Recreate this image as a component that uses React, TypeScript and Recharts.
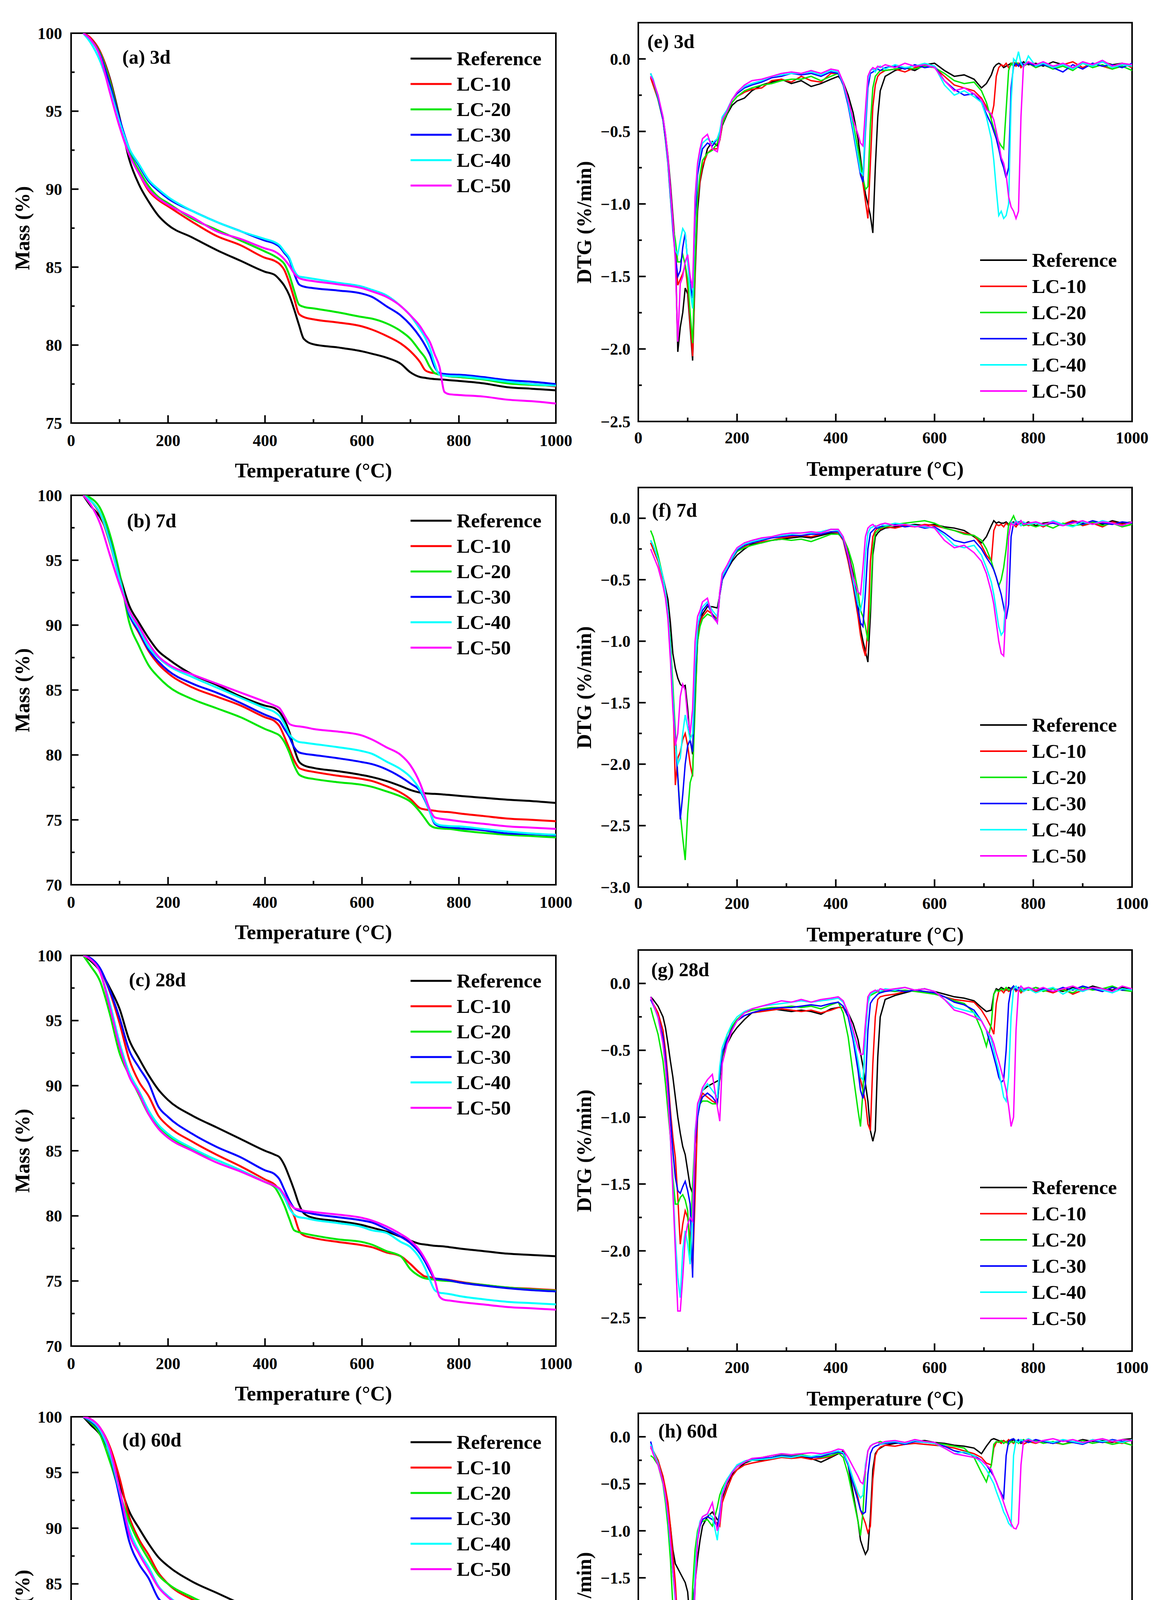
import React from "react";
import { LineChart, Line, XAxis, YAxis, Legend, ReferenceArea } from "recharts";

const FONT = '"Liberation Serif", "Times New Roman", serif';

const SERIES = [
  { key: "ref", name: "Reference", color: "#000000" },
  { key: "lc10", name: "LC-10", color: "#ff0000" },
  { key: "lc20", name: "LC-20", color: "#00e600" },
  { key: "lc30", name: "LC-30", color: "#0000ff" },
  { key: "lc40", name: "LC-40", color: "#00ffff" },
  { key: "lc50", name: "LC-50", color: "#ff00ff" },
];

// temperature grids (°C)
const T_TG = [
  25, 40, 60, 80, 100, 120, 140, 160, 180, 200,
  250, 300, 350, 400, 420, 430, 440, 450, 460, 470,
  480, 500, 550, 600, 620, 650, 680, 700, 720, 730,
  740, 750, 760, 770, 780, 800, 850, 900, 950, 1000,
];

const T_DTG = [
  25, 30, 40, 50, 55, 60, 65, 70, 75, 80,
  85, 90, 95, 100, 105, 110, 115, 120, 125, 130,
  140, 150, 160, 165, 170, 180, 190, 200, 215, 230,
  250, 270, 290, 310, 330, 350, 370, 390, 405, 415,
  425, 435, 445, 450, 455, 460, 465, 470, 475, 480,
  485, 490, 500, 520, 540, 560, 580, 600, 620, 640,
  660, 680, 695, 705, 715, 720, 725, 730, 735, 740,
  745, 750, 755, 760, 765, 770, 775, 780, 790, 805,
  820, 840, 860, 880, 900, 920, 940, 960, 980, 1000,
];

// ---- mass (%) 3d ----
const A_REF = [
  100, 99.7, 98.8, 97.1, 94.6, 91.9, 90.3, 89.2, 88.3, 87.7,
  86.9, 86.1, 85.4, 84.7, 84.5, 84.2, 83.8, 83.2, 82.3, 81.3,
  80.4, 80.05, 79.85, 79.6, 79.45, 79.2, 78.8, 78.25, 77.95, 77.9,
  77.85, 77.82, 77.8, 77.78, 77.75, 77.7, 77.55, 77.3, 77.2, 77.1,
];
const A_LC10 = [
  100, 99.7, 98.8, 97.0, 94.5, 92.3, 91.0, 89.9, 89.3, 88.9,
  87.9, 87.0, 86.4, 85.6, 85.4, 85.2, 84.8, 84.0, 83.0, 82.0,
  81.8, 81.65, 81.45, 81.2, 81.0, 80.6, 80.1, 79.6, 78.9, 78.4,
  78.25, 78.2, 78.1, 78.05, 78.0, 77.95, 77.85, 77.6, 77.5, 77.35,
];
const A_LC20 = [
  100, 99.6, 98.7, 96.9, 94.5, 92.4, 91.2, 90.2, 89.5, 89.1,
  88.1, 87.4, 86.7, 86.0, 85.7, 85.5, 85.2, 84.5, 83.5, 82.6,
  82.45, 82.35, 82.1, 81.8, 81.7, 81.4, 80.9, 80.4, 79.6, 79.2,
  78.6, 78.2, 78.1, 78.05, 78.0, 77.95, 77.8, 77.55, 77.45, 77.4,
];
const A_LC30 = [
  100, 99.6, 98.6, 96.7, 94.5, 92.6, 91.5, 90.5, 89.9, 89.4,
  88.6, 87.9, 87.3, 86.7, 86.5, 86.3, 85.9, 85.5, 84.6, 83.9,
  83.75, 83.65, 83.5, 83.3, 83.1, 82.5, 81.9, 81.3, 80.5, 80.0,
  79.4, 78.6, 78.2, 78.15, 78.12, 78.1, 77.95, 77.75, 77.65, 77.5,
];
const A_LC40 = [
  100, 99.4, 98.2, 96.4, 94.3, 92.6, 91.6, 90.6, 90.0, 89.5,
  88.6, 87.9, 87.3, 86.8, 86.6, 86.4, 86.0, 85.6, 84.8, 84.4,
  84.35, 84.25, 84.0, 83.75, 83.55, 83.2, 82.5, 81.9, 81.0, 80.5,
  79.8, 78.8, 78.1, 78.05, 78.02, 78.0, 77.85, 77.65, 77.5, 77.4,
];
const A_LC50 = [
  100, 99.6, 98.5, 96.2, 94.0, 92.2, 91.0, 90.0, 89.4, 89.0,
  88.2, 87.3, 86.8, 86.2, 86.0, 85.8, 85.5, 85.1, 84.6, 84.3,
  84.2, 84.1, 83.9, 83.65, 83.45, 83.1, 82.5, 81.9, 81.2, 80.7,
  80.2, 79.4, 78.6, 77.0, 76.85, 76.8, 76.7, 76.5, 76.4, 76.25,
];

// ---- mass (%) 7d ----
const B_REF = [
  100, 99.2, 98.3, 96.6, 93.9, 91.5, 90.2, 89.0, 88.0, 87.4,
  86.2, 85.4, 84.5, 83.8, 83.6, 83.3, 82.7, 81.8, 80.5, 79.5,
  79.2, 79.0, 78.75, 78.45, 78.3, 78.0, 77.6, 77.3, 77.1, 77.05,
  77.02, 77.0, 76.98, 76.95, 76.92, 76.85, 76.7, 76.55, 76.45, 76.3,
];
const B_LC10 = [
  100, 99.6, 98.5, 96.3, 93.5, 90.8, 89.4, 88.0, 87.0, 86.3,
  85.2, 84.5, 83.8, 82.9, 82.6, 82.2, 81.4, 80.5, 79.6, 79.0,
  78.85, 78.7, 78.4, 78.15, 78.0, 77.6, 77.1, 76.6, 75.9, 75.8,
  75.75, 75.7, 75.65, 75.62, 75.6, 75.5, 75.3, 75.1, 75.0, 74.9,
];
const B_LC20 = [
  100, 99.8, 99.0, 97.0, 94.0, 90.2, 88.4, 86.9, 86.0, 85.3,
  84.3, 83.6, 82.9, 82.0, 81.7, 81.5, 81.0, 80.2, 79.2, 78.5,
  78.3, 78.15, 77.9, 77.7, 77.55, 77.2, 76.8, 76.4, 75.6, 75.1,
  74.6, 74.4, 74.35, 74.32, 74.3, 74.2, 74.0, 73.85, 73.75, 73.65,
];
const B_LC30 = [
  100, 99.6, 98.6, 96.5, 93.6, 90.8, 89.5, 88.1, 87.2, 86.5,
  85.5, 84.8, 84.0, 83.1, 82.8, 82.6, 82.0, 81.4, 80.6, 80.2,
  80.1, 80.0, 79.75, 79.45, 79.3, 78.9, 78.3, 77.8, 77.2, 76.5,
  75.6, 74.7, 74.5, 74.45, 74.42, 74.35, 74.2, 73.95, 73.9, 73.8,
];
const B_LC40 = [
  100, 99.6, 98.6, 96.4, 93.5, 91.0, 89.7, 88.3, 87.5, 86.9,
  86.0, 85.2, 84.4, 83.6, 83.3, 83.0, 82.4, 81.6, 81.2, 81.0,
  80.95, 80.85, 80.6, 80.3, 80.1, 79.5, 78.9, 78.3, 77.3, 76.6,
  75.6, 74.8, 74.6, 74.55, 74.52, 74.5, 74.3, 74.1, 73.95, 73.85,
];
const B_LC50 = [
  100, 99.3, 97.8, 95.4, 93.1, 91.1, 89.9, 88.6, 87.6, 87.0,
  86.2, 85.5, 84.8, 84.1, 83.8, 83.6, 83.0, 82.4, 82.25, 82.2,
  82.15, 82.0, 81.8, 81.5, 81.2, 80.6, 80.0, 79.2, 77.8, 76.8,
  75.8, 75.2, 75.1, 75.05, 75.0, 74.9, 74.7, 74.5, 74.4, 74.3,
];

// ---- mass (%) 28d ----
const C_REF = [
  100, 99.6, 98.8, 97.5, 95.9, 93.5, 92.1, 90.8, 89.7, 88.9,
  87.7, 86.8, 85.9, 85.0, 84.7, 84.5, 83.9, 83.0, 82.0, 80.9,
  80.2, 79.85, 79.6, 79.3, 79.1, 78.8, 78.4, 78.1, 77.85, 77.8,
  77.75, 77.7, 77.68, 77.65, 77.6, 77.5, 77.3, 77.1, 77.0, 76.9,
];
const C_LC10 = [
  100, 99.7, 98.9, 97.2, 94.8, 92.0, 90.3, 89.2, 87.7, 86.9,
  85.7, 84.7, 83.8, 82.8, 82.4, 82.0, 81.4, 80.7, 80.0, 78.9,
  78.5, 78.3, 78.0, 77.75, 77.6, 77.2, 76.9, 76.3, 75.6, 75.35,
  75.3, 75.2, 75.15, 75.12, 75.08, 74.95, 74.7, 74.5, 74.4, 74.3,
];
const C_LC20 = [
  100, 99.2, 98.0, 95.5, 92.5, 90.8, 89.3, 87.8, 86.9, 86.2,
  85.1, 84.3, 83.5, 82.6, 82.2, 81.6, 80.8, 79.8, 78.9, 78.75,
  78.65, 78.5, 78.2, 78.0, 77.8, 77.3, 76.9, 75.9, 75.35, 75.2,
  75.15, 75.1, 75.05, 75.02, 75.0, 74.9, 74.7, 74.5, 74.35, 74.25,
];
const C_LC30 = [
  100, 99.8, 99.0, 97.3, 95.2, 92.7, 91.4, 90.2, 88.4, 87.6,
  86.3, 85.3, 84.5, 83.5, 83.2, 82.8, 82.0, 81.2, 80.6, 80.4,
  80.3, 80.15, 79.9, 79.65, 79.5, 79.0, 78.4, 77.9, 77.1, 76.5,
  75.8, 75.2, 75.15, 75.1, 75.05, 74.9, 74.65, 74.45, 74.3, 74.2,
];
const C_LC40 = [
  100, 99.7, 98.7, 96.3, 93.3, 91.0, 89.6, 88.1, 87.0, 86.3,
  85.2, 84.3, 83.5, 82.6, 82.3, 82.0, 81.4, 80.6, 80.1, 79.9,
  79.85, 79.7, 79.45, 79.15, 78.9, 78.7, 78.0, 77.6, 76.7, 76.0,
  75.1, 74.3, 74.1, 74.05, 74.0, 73.85, 73.6, 73.4, 73.3, 73.2,
];
const C_LC50 = [
  100, 99.7, 98.7, 96.0, 93.0, 90.7, 89.4, 87.8, 86.7, 86.0,
  85.0, 84.1, 83.4, 82.6, 82.3, 82.1, 81.6, 81.0, 80.6, 80.5,
  80.4, 80.3, 80.1, 79.85, 79.65, 79.2, 78.6, 78.1, 77.3, 76.7,
  76.0, 75.1, 73.8, 73.55, 73.5, 73.4, 73.2, 73.0, 72.9, 72.8,
];

// ---- mass (%) 60d ----
const D_REF = [
  100, 99.3, 98.4, 96.8, 94.0, 91.5, 90.0, 88.6, 87.4, 86.6,
  85.2, 84.2, 83.2, 82.2, 81.7, 81.1, 80.2, 79.2, 78.0, 77.3,
  77.1, 76.9, 76.6, 76.3, 76.15, 75.8, 75.3, 75.05, 74.95, 74.9,
  74.88, 74.85, 74.82, 74.8, 74.78, 74.7, 74.4, 74.15, 74.0, 73.9,
];
const D_LC10 = [
  100, 99.8, 99.0, 97.3, 94.5, 91.0, 89.0, 87.6, 86.0, 85.0,
  83.6, 82.7, 81.7, 80.6, 80.2, 79.7, 78.8, 77.9, 77.0, 76.5,
  76.3, 76.15, 75.9, 75.65, 75.5, 75.1, 74.6, 74.2, 73.6, 73.5,
  73.45, 73.4, 73.35, 73.3, 73.27, 73.2, 72.95, 72.7, 72.6, 72.5,
];
const D_LC20 = [
  100, 99.5, 98.4, 96.0, 93.2, 90.6, 88.7, 87.2, 85.8, 85.0,
  83.8, 82.8, 81.9, 80.9, 80.6, 80.0, 79.0, 78.0, 77.5, 77.35,
  77.25, 77.1, 76.85, 76.6, 76.45, 76.1, 75.5, 74.8, 73.9, 73.75,
  73.7, 73.6, 73.55, 73.5, 73.45, 73.35, 73.15, 72.95, 72.85, 72.75,
];
const D_LC30 = [
  100, 99.6, 98.7, 96.6, 92.8, 88.8, 86.8, 85.5, 83.7, 83.0,
  81.6, 80.6, 79.6, 78.7, 78.4, 78.1, 77.3, 76.6, 75.9, 75.6,
  75.5, 75.35, 75.1, 74.85, 74.7, 74.2, 73.8, 73.4, 72.6, 72.1,
  71.5, 71.1, 71.05, 71.0, 70.97, 70.9, 70.7, 70.45, 70.3, 70.2,
];
const D_LC40 = [
  100, 99.7, 98.8, 96.7, 93.3, 89.9, 87.9, 86.5, 84.8, 83.9,
  82.6, 81.6, 80.8, 80.0, 79.75, 79.5, 79.0, 78.3, 77.8, 77.6,
  77.45, 77.3, 77.05, 76.8, 76.6, 76.2, 75.7, 75.3, 74.6, 74.0,
  73.3, 72.4, 71.8, 71.7, 71.6, 71.5, 71.25, 71.05, 71.0, 70.9,
];
const D_LC50 = [
  100, 99.8, 99.0, 97.1, 93.5, 89.5, 87.7, 86.2, 84.7, 83.8,
  82.5, 81.6, 80.8, 80.1, 79.9, 79.7, 79.3, 78.9, 78.5, 78.3,
  78.2, 78.05, 77.8, 77.55, 77.35, 76.85, 76.3, 75.9, 75.3, 74.9,
  74.3, 73.5, 72.3, 71.5, 71.45, 71.3, 71.0, 70.8, 70.7, 70.6,
];

// ---- DTG (%/min) 3d ----
const E_REF = [
  -0.12, -0.17, -0.26, -0.40, -0.52, -0.67, -0.86, -1.08, -1.30, -2.02,
  -1.85, -1.75, -1.58, -1.62, -1.85, -2.08, -1.50, -1.05, -0.85, -0.76,
  -0.62, -0.57, -0.60, -0.56, -0.46, -0.38, -0.32, -0.29, -0.27, -0.22,
  -0.18, -0.16, -0.14, -0.17, -0.15, -0.19, -0.17, -0.14, -0.12, -0.16,
  -0.25, -0.37, -0.55, -0.68, -0.82, -0.93, -1.00, -1.08, -1.20, -0.75,
  -0.40, -0.22, -0.12, -0.08, -0.06, -0.08, -0.04, -0.03, -0.08, -0.12,
  -0.11, -0.14, -0.20, -0.17, -0.11, -0.06, -0.04, -0.03, -0.04, -0.06,
  -0.05, -0.04, -0.03, -0.05, -0.04, -0.03, -0.05, -0.02, -0.04, -0.03,
  -0.05, -0.02, -0.04, -0.07, -0.03, -0.05, -0.02, -0.04, -0.03, -0.05,
];
const E_LC10 = [
  -0.13, -0.18, -0.28, -0.42, -0.55, -0.70, -0.90, -1.12, -1.30, -1.56,
  -1.52, -1.48, -1.42, -1.58, -1.82, -2.05, -1.45, -0.98, -0.84, -0.74,
  -0.65, -0.62, -0.62, -0.56, -0.45, -0.36, -0.30, -0.26, -0.23, -0.21,
  -0.20, -0.15, -0.14, -0.16, -0.12, -0.15, -0.16, -0.10, -0.10, -0.18,
  -0.30, -0.45, -0.62, -0.75, -0.86, -0.98, -1.10, -0.72, -0.33, -0.18,
  -0.12, -0.10, -0.08, -0.07, -0.09, -0.06, -0.05, -0.06, -0.12, -0.18,
  -0.20, -0.22, -0.27, -0.33, -0.40, -0.32, -0.12, -0.06, -0.04, -0.05,
  -0.03, -0.06, -0.04, -0.02, -0.05, -0.03, -0.06, -0.04, -0.02, -0.05,
  -0.03, -0.06, -0.04, -0.02, -0.06, -0.03, -0.05, -0.07, -0.03, -0.06,
];
const E_LC20 = [
  -0.10, -0.15, -0.28, -0.42, -0.56, -0.72, -0.95, -1.15, -1.25, -1.40,
  -1.40, -1.35, -1.42, -1.52, -1.75, -1.96, -1.40, -0.95, -0.80, -0.70,
  -0.65, -0.63, -0.58, -0.52, -0.45, -0.37, -0.30, -0.26, -0.22, -0.20,
  -0.18, -0.17, -0.15, -0.14, -0.14, -0.12, -0.15, -0.12, -0.10, -0.18,
  -0.30, -0.45, -0.62, -0.72, -0.82, -0.90, -0.88, -0.45, -0.20, -0.12,
  -0.10, -0.08, -0.08, -0.07, -0.06, -0.07, -0.05, -0.06, -0.10, -0.15,
  -0.17, -0.16, -0.22, -0.30, -0.42, -0.48, -0.52, -0.57, -0.60, -0.62,
  -0.35, -0.08, -0.03, -0.05, -0.02, -0.04, -0.03, -0.05, -0.03, -0.06,
  -0.04, -0.07, -0.05, -0.08, -0.03, -0.06, -0.04, -0.07, -0.05, -0.08,
];
const E_LC30 = [
  -0.10, -0.14, -0.27, -0.42, -0.55, -0.72, -0.95, -1.18, -1.36, -1.50,
  -1.46, -1.30, -1.20, -1.40, -1.55, -1.65, -1.10, -0.80, -0.70, -0.62,
  -0.58, -0.60, -0.55, -0.50, -0.42, -0.35, -0.28, -0.24, -0.20, -0.18,
  -0.16, -0.13, -0.12, -0.10, -0.11, -0.10, -0.12, -0.09, -0.10, -0.18,
  -0.32, -0.50, -0.70, -0.80, -0.85, -0.50, -0.20, -0.10, -0.09, -0.08,
  -0.07, -0.08, -0.06, -0.05, -0.07, -0.04, -0.06, -0.05, -0.15, -0.21,
  -0.25, -0.24, -0.30, -0.38, -0.45, -0.50, -0.55, -0.62, -0.70, -0.75,
  -0.82, -0.75, -0.20, -0.05, -0.03, -0.05, -0.02, -0.04, -0.03, -0.05,
  -0.04, -0.06, -0.09, -0.04, -0.07, -0.03, -0.05, -0.04, -0.06, -0.03,
];
const E_LC40 = [
  -0.10, -0.14, -0.26, -0.40, -0.52, -0.70, -0.92, -1.15, -1.32, -1.35,
  -1.25, -1.17, -1.20, -1.40, -1.60, -1.72, -1.00, -0.75, -0.65, -0.58,
  -0.55, -0.58, -0.55, -0.50, -0.40, -0.35, -0.28, -0.23, -0.19, -0.17,
  -0.15, -0.12, -0.11, -0.10, -0.10, -0.09, -0.11, -0.08, -0.09, -0.17,
  -0.30, -0.48, -0.68, -0.78, -0.80, -0.45, -0.15, -0.08, -0.07, -0.09,
  -0.06, -0.05, -0.07, -0.04, -0.06, -0.05, -0.03, -0.05, -0.18, -0.25,
  -0.22, -0.26, -0.30, -0.40, -0.55, -0.70, -0.90, -1.08, -1.05, -1.10,
  -1.08, -1.00, -0.30, 0.00, -0.02, 0.05, -0.03, -0.06, 0.02, -0.05,
  -0.03, -0.06, -0.04, -0.07, -0.03, -0.05, -0.02, -0.06, -0.04, -0.05,
];
const E_LC50 = [
  -0.12, -0.15, -0.25, -0.40, -0.52, -0.68, -0.90, -1.12, -1.40, -1.95,
  -1.55, -1.50, -1.40, -1.35, -1.50, -1.58, -0.95, -0.72, -0.62, -0.55,
  -0.52, -0.62, -0.64, -0.55, -0.42, -0.36, -0.28, -0.23, -0.18, -0.15,
  -0.14, -0.12, -0.10, -0.09, -0.10, -0.08, -0.10, -0.07, -0.08, -0.16,
  -0.28, -0.42, -0.52, -0.58, -0.60, -0.35, -0.12, -0.08, -0.06, -0.07,
  -0.05, -0.06, -0.04, -0.06, -0.03, -0.05, -0.04, -0.06, -0.15, -0.22,
  -0.20, -0.24, -0.28, -0.35, -0.38, -0.42, -0.50, -0.58, -0.68, -0.72,
  -0.80, -0.95, -1.02, -1.05, -1.10, -1.05, -0.40, -0.05, -0.02, -0.04,
  -0.02, -0.05, -0.03, -0.06, -0.02, -0.04, -0.01, -0.05, -0.03, -0.04,
];

// ---- DTG (%/min) 7d ----
const F_REF = [
  -0.20, -0.24, -0.33, -0.48, -0.57, -0.66, -0.85, -1.10, -1.22, -1.30,
  -1.35, -1.37, -1.36, -1.55, -1.80, -1.92, -1.50, -1.00, -0.85, -0.78,
  -0.72, -0.72, -0.73, -0.62, -0.50, -0.42, -0.35, -0.30, -0.25, -0.21,
  -0.20, -0.18, -0.17, -0.16, -0.15, -0.16, -0.14, -0.12, -0.12, -0.16,
  -0.28, -0.45, -0.70, -0.90, -1.00, -1.08, -1.17, -0.80, -0.30, -0.15,
  -0.12, -0.10, -0.08, -0.07, -0.06, -0.05, -0.06, -0.05, -0.07, -0.08,
  -0.10, -0.15, -0.20, -0.15, -0.06, -0.02, -0.04, -0.03, -0.04, -0.04,
  -0.03, -0.05, -0.04, -0.03, -0.05, -0.04, -0.02, -0.05, -0.03, -0.06,
  -0.04, -0.03, -0.05, -0.02, -0.04, -0.03, -0.05, -0.02, -0.04, -0.03,
];
const F_LC10 = [
  -0.20, -0.25, -0.35, -0.50, -0.60, -0.75, -1.00, -1.40, -2.17, -1.95,
  -1.90, -1.80, -1.75, -1.85, -2.00, -2.10, -1.40, -0.95, -0.85, -0.80,
  -0.75, -0.78, -0.82, -0.62, -0.50, -0.40, -0.33, -0.27, -0.23, -0.20,
  -0.19, -0.18, -0.16, -0.15, -0.14, -0.15, -0.13, -0.11, -0.12, -0.18,
  -0.35, -0.55, -0.80, -0.95, -1.05, -1.12, -0.90, -0.35, -0.15, -0.10,
  -0.08, -0.09, -0.07, -0.08, -0.06, -0.07, -0.05, -0.06, -0.08, -0.10,
  -0.12, -0.14, -0.22, -0.30, -0.35, -0.10, -0.05, -0.06, -0.05, -0.07,
  -0.04, -0.06, -0.03, -0.05, -0.07, -0.04, -0.06, -0.03, -0.06, -0.04,
  -0.07, -0.03, -0.05, -0.02, -0.06, -0.04, -0.07, -0.03, -0.05, -0.04,
];
const F_LC20 = [
  -0.10, -0.15, -0.30, -0.48, -0.60, -0.75, -1.00, -1.35, -1.75, -2.10,
  -2.40, -2.60, -2.78, -2.40, -2.15, -2.08, -1.55, -1.00, -0.88, -0.82,
  -0.78, -0.80, -0.82, -0.60, -0.48, -0.40, -0.33, -0.27, -0.24, -0.22,
  -0.20, -0.18, -0.17, -0.18, -0.17, -0.19, -0.16, -0.13, -0.13, -0.16,
  -0.25, -0.38, -0.60, -0.75, -0.80, -0.88, -1.00, -0.70, -0.25, -0.12,
  -0.10, -0.08, -0.07, -0.05, -0.04, -0.03, -0.02, -0.04, -0.08, -0.10,
  -0.13, -0.14, -0.18, -0.25, -0.35, -0.42, -0.48, -0.55, -0.50, -0.40,
  -0.25, -0.05, -0.02, 0.02, -0.03, -0.05, -0.04, -0.06, -0.05, -0.07,
  -0.05, -0.08, -0.04, -0.06, -0.05, -0.03, -0.06, -0.04, -0.07, -0.05,
];
const F_LC30 = [
  -0.18, -0.22, -0.33, -0.48, -0.60, -0.76, -1.05, -1.45, -1.80, -2.10,
  -2.45, -2.25, -2.00, -1.85, -1.80, -1.90, -1.30, -0.90, -0.80, -0.75,
  -0.70, -0.78, -0.85, -0.62, -0.50, -0.42, -0.33, -0.26, -0.22, -0.20,
  -0.18, -0.16, -0.15, -0.14, -0.14, -0.13, -0.13, -0.11, -0.11, -0.17,
  -0.32, -0.52, -0.75, -0.85, -0.88, -0.60, -0.25, -0.12, -0.10, -0.08,
  -0.08, -0.07, -0.06, -0.05, -0.07, -0.06, -0.08, -0.07, -0.12, -0.18,
  -0.20, -0.18, -0.25, -0.32, -0.38, -0.42, -0.48, -0.55, -0.62, -0.72,
  -0.82, -0.70, -0.15, -0.04, -0.05, -0.03, -0.06, -0.04, -0.05, -0.03,
  -0.05, -0.04, -0.06, -0.03, -0.05, -0.02, -0.04, -0.05, -0.03, -0.04,
];
const F_LC40 = [
  -0.18, -0.22, -0.33, -0.48, -0.60, -0.76, -1.05, -1.45, -1.85, -2.00,
  -1.95, -1.75, -1.60, -1.70, -1.80, -1.75, -1.20, -0.88, -0.78, -0.72,
  -0.68, -0.75, -0.80, -0.60, -0.47, -0.40, -0.32, -0.25, -0.21, -0.19,
  -0.17, -0.15, -0.14, -0.13, -0.12, -0.12, -0.11, -0.09, -0.10, -0.16,
  -0.30, -0.50, -0.70, -0.75, -0.65, -0.30, -0.12, -0.08, -0.07, -0.06,
  -0.07, -0.05, -0.06, -0.04, -0.05, -0.06, -0.07, -0.08, -0.14, -0.22,
  -0.24, -0.22, -0.30, -0.40, -0.52, -0.62, -0.75, -0.88, -0.95, -0.92,
  -0.60, -0.15, -0.03, -0.05, -0.02, -0.04, -0.06, -0.03, -0.05, -0.04,
  -0.06, -0.02, -0.05, -0.07, -0.03, -0.05, -0.02, -0.04, -0.06, -0.03,
];
const F_LC50 = [
  -0.25, -0.30, -0.40, -0.55, -0.65, -0.82, -1.15, -1.55, -1.85, -1.75,
  -1.45, -1.35, -1.40, -1.62, -1.75, -1.55, -1.00, -0.80, -0.75, -0.68,
  -0.65, -0.80, -0.85, -0.60, -0.45, -0.38, -0.30, -0.24, -0.20, -0.18,
  -0.16, -0.15, -0.13, -0.12, -0.12, -0.11, -0.12, -0.09, -0.09, -0.15,
  -0.30, -0.48, -0.60, -0.62, -0.40, -0.15, -0.08, -0.06, -0.05, -0.07,
  -0.06, -0.05, -0.04, -0.06, -0.05, -0.07, -0.06, -0.08, -0.18, -0.24,
  -0.22, -0.28, -0.35, -0.45, -0.60, -0.70, -0.85, -1.00, -1.10, -1.12,
  -0.70, -0.15, -0.04, -0.06, -0.03, -0.05, -0.02, -0.05, -0.04, -0.03,
  -0.05, -0.03, -0.06, -0.04, -0.02, -0.05, -0.03, -0.04, -0.06, -0.03,
];

// ---- DTG (%/min) 28d ----
const G_REF = [
  -0.10, -0.12, -0.17, -0.25, -0.33, -0.45, -0.58, -0.70, -0.85, -1.00,
  -1.12, -1.22, -1.28, -1.40, -1.52, -1.57, -1.20, -0.95, -0.85, -0.80,
  -0.77, -0.75, -0.73, -0.72, -0.55, -0.45, -0.38, -0.33, -0.27, -0.22,
  -0.20, -0.19, -0.20, -0.21, -0.20, -0.21, -0.23, -0.19, -0.18, -0.18,
  -0.22, -0.30, -0.42, -0.52, -0.62, -0.75, -0.88, -1.10, -1.18, -1.10,
  -0.55, -0.25, -0.12, -0.09, -0.07, -0.05, -0.04, -0.06, -0.08, -0.10,
  -0.11, -0.13, -0.18, -0.21, -0.20, -0.08, -0.04, -0.05, -0.03, -0.04,
  -0.05, -0.03, -0.04, -0.02, -0.05, -0.03, -0.06, -0.04, -0.05, -0.03,
  -0.05, -0.04, -0.06, -0.03, -0.05, -0.02, -0.04, -0.05, -0.03, -0.04,
];
const G_LC10 = [
  -0.12, -0.15, -0.22, -0.35, -0.50, -0.70, -0.95, -1.15, -1.30, -1.60,
  -1.95, -1.80, -1.70, -1.75, -1.90, -2.15, -1.60, -1.00, -0.88, -0.82,
  -0.85, -0.88, -0.90, -0.70, -0.52, -0.42, -0.33, -0.28, -0.24, -0.22,
  -0.21, -0.20, -0.19, -0.20, -0.21, -0.20, -0.22, -0.20, -0.18, -0.18,
  -0.25, -0.40, -0.60, -0.72, -0.80, -0.88, -1.05, -1.10, -0.60, -0.25,
  -0.12, -0.10, -0.09, -0.08, -0.06, -0.05, -0.06, -0.07, -0.10, -0.12,
  -0.13, -0.14, -0.20, -0.26, -0.33, -0.38, -0.15, -0.06, -0.05, -0.07,
  -0.04, -0.06, -0.05, -0.03, -0.06, -0.04, -0.07, -0.05, -0.04, -0.06,
  -0.05, -0.07, -0.04, -0.08, -0.05, -0.04, -0.06, -0.03, -0.05, -0.04,
];
const G_LC20 = [
  -0.18, -0.25, -0.38, -0.58, -0.75, -0.95, -1.15, -1.45, -1.65, -1.65,
  -1.60, -1.58, -1.62, -1.70, -2.05, -1.50, -1.15, -0.95, -0.90, -0.88,
  -0.88, -0.90, -0.90, -0.70, -0.55, -0.38, -0.32, -0.27, -0.22, -0.20,
  -0.19, -0.18, -0.18, -0.17, -0.18, -0.17, -0.19, -0.16, -0.14, -0.22,
  -0.40, -0.68, -0.95, -1.07, -0.80, -0.35, -0.12, -0.09, -0.08, -0.07,
  -0.06, -0.07, -0.05, -0.06, -0.05, -0.06, -0.07, -0.08, -0.10, -0.13,
  -0.15, -0.22, -0.35, -0.47, -0.30, -0.08, -0.05, -0.06, -0.04, -0.05,
  -0.03, -0.05, -0.04, -0.02, -0.05, -0.03, -0.06, -0.04, -0.05, -0.03,
  -0.06, -0.04, -0.05, -0.07, -0.03, -0.05, -0.04, -0.02, -0.05, -0.06,
];
const G_LC30 = [
  -0.12, -0.16, -0.25, -0.40, -0.55, -0.75, -1.00, -1.25, -1.45, -1.55,
  -1.57, -1.52, -1.48, -1.55, -1.65, -2.20, -1.20, -1.00, -0.90, -0.85,
  -0.82, -0.85, -0.90, -0.68, -0.52, -0.42, -0.34, -0.28, -0.24, -0.22,
  -0.20, -0.19, -0.18, -0.18, -0.17, -0.16, -0.17, -0.15, -0.14, -0.17,
  -0.25, -0.42, -0.65, -0.80, -0.86, -0.75, -0.35, -0.15, -0.12, -0.10,
  -0.08, -0.07, -0.06, -0.05, -0.06, -0.05, -0.06, -0.07, -0.10, -0.14,
  -0.16, -0.20, -0.28, -0.35, -0.48, -0.55, -0.62, -0.70, -0.74, -0.72,
  -0.50, -0.15, -0.04, -0.02, -0.05, -0.03, -0.04, -0.06, -0.03, -0.05,
  -0.04, -0.06, -0.03, -0.05, -0.02, -0.04, -0.06, -0.03, -0.05, -0.04,
];
const G_LC40 = [
  -0.10, -0.15, -0.26, -0.45, -0.62, -0.85, -1.15, -1.50, -1.90, -2.20,
  -2.35, -2.00, -1.85, -1.95, -2.10, -1.70, -1.10, -0.95, -0.85, -0.80,
  -0.75, -0.80, -0.85, -0.62, -0.48, -0.38, -0.30, -0.25, -0.21, -0.19,
  -0.17, -0.16, -0.15, -0.14, -0.13, -0.14, -0.13, -0.12, -0.11, -0.14,
  -0.22, -0.38, -0.58, -0.70, -0.72, -0.40, -0.15, -0.08, -0.07, -0.06,
  -0.05, -0.06, -0.04, -0.05, -0.03, -0.05, -0.04, -0.06, -0.12, -0.18,
  -0.20, -0.22, -0.28, -0.35, -0.42, -0.50, -0.58, -0.65, -0.75, -0.85,
  -0.88, -0.70, -0.25, -0.04, -0.02, -0.05, -0.03, -0.06, -0.04, -0.07,
  -0.05, -0.03, -0.08, -0.04, -0.06, -0.03, -0.05, -0.07, -0.04, -0.05,
];
const G_LC50 = [
  -0.10, -0.15, -0.25, -0.45, -0.62, -0.85, -1.15, -1.55, -2.00, -2.45,
  -2.45, -2.20, -1.90, -1.80, -1.75, -1.78, -1.15, -0.90, -0.85, -0.78,
  -0.72, -0.68, -0.92, -1.03, -0.60, -0.45, -0.35, -0.28, -0.22, -0.19,
  -0.17, -0.15, -0.13, -0.14, -0.12, -0.14, -0.12, -0.11, -0.10, -0.13,
  -0.22, -0.35, -0.48, -0.53, -0.53, -0.30, -0.10, -0.07, -0.06, -0.05,
  -0.06, -0.04, -0.05, -0.04, -0.03, -0.05, -0.04, -0.06, -0.12, -0.20,
  -0.22, -0.25, -0.28, -0.35, -0.40, -0.45, -0.52, -0.58, -0.65, -0.72,
  -0.80, -0.92, -1.07, -1.00, -0.35, -0.05, -0.02, -0.04, -0.03, -0.05,
  -0.03, -0.06, -0.04, -0.02, -0.05, -0.03, -0.04, -0.06, -0.02, -0.04,
];

// ---- DTG (%/min) 60d ----
const H_REF = [
  -0.10, -0.15, -0.25, -0.45, -0.60, -0.78, -0.95, -1.20, -1.35, -1.40,
  -1.45, -1.50, -1.55, -1.65, -1.98, -1.75, -1.55, -1.30, -1.10, -0.95,
  -0.85, -0.80, -0.88, -0.90, -0.65, -0.50, -0.40, -0.35, -0.28, -0.25,
  -0.25, -0.22, -0.20, -0.22, -0.21, -0.23, -0.27, -0.22, -0.18, -0.15,
  -0.30, -0.60, -0.90, -1.10, -1.18, -1.25, -1.20, -0.85, -0.35, -0.18,
  -0.14, -0.12, -0.09, -0.07, -0.06, -0.05, -0.04, -0.06, -0.07, -0.09,
  -0.10, -0.12, -0.18, -0.10, -0.03, -0.02, -0.03, -0.04, -0.05, -0.04,
  -0.06, -0.04, -0.05, -0.03, -0.06, -0.04, -0.07, -0.05, -0.04, -0.06,
  -0.05, -0.07, -0.04, -0.06, -0.03, -0.05, -0.04, -0.06, -0.03, -0.02,
];
const H_LC10 = [
  -0.12, -0.15, -0.25, -0.42, -0.55, -0.70, -0.95, -1.25, -1.55, -2.00,
  -2.40, -2.52, -2.50, -2.30, -2.00, -2.10, -1.60, -1.10, -0.95, -0.88,
  -0.85, -0.88, -0.92, -0.95, -0.70, -0.55, -0.42, -0.35, -0.30, -0.28,
  -0.26, -0.24, -0.22, -0.23, -0.22, -0.24, -0.23, -0.21, -0.17, -0.18,
  -0.28, -0.45, -0.65, -0.78, -0.85, -0.92, -1.02, -0.95, -0.45, -0.20,
  -0.14, -0.11, -0.09, -0.10, -0.08, -0.07, -0.08, -0.09, -0.10, -0.12,
  -0.15, -0.18, -0.22, -0.28, -0.30, -0.12, -0.06, -0.05, -0.07, -0.04,
  -0.06, -0.03, -0.05, -0.07, -0.04, -0.06, -0.05, -0.08, -0.05, -0.07,
  -0.04, -0.06, -0.08, -0.05, -0.07, -0.04, -0.06, -0.05, -0.07, -0.03,
];
const H_LC20 = [
  -0.20, -0.22, -0.30, -0.50, -0.70, -0.95, -1.30, -1.80, -2.32, -2.10,
  -1.85, -1.80, -1.95, -2.30, -2.35, -1.60, -1.20, -1.00, -0.92, -0.90,
  -0.88, -0.95, -0.75, -0.62, -0.55, -0.45, -0.38, -0.32, -0.27, -0.24,
  -0.22, -0.20, -0.19, -0.20, -0.19, -0.21, -0.22, -0.20, -0.17, -0.22,
  -0.40, -0.65, -0.90, -1.05, -0.80, -0.35, -0.15, -0.10, -0.08, -0.07,
  -0.06, -0.05, -0.07, -0.05, -0.06, -0.04, -0.05, -0.07, -0.08, -0.10,
  -0.12, -0.22, -0.38, -0.48, -0.30, -0.08, -0.05, -0.06, -0.04, -0.07,
  -0.05, -0.08, -0.05, -0.06, -0.04, -0.07, -0.05, -0.03, -0.06, -0.04,
  -0.07, -0.05, -0.08, -0.06, -0.04, -0.07, -0.05, -0.08, -0.06, -0.09,
];
const H_LC30 = [
  -0.05, -0.15, -0.28, -0.48, -0.65, -0.85, -1.15, -1.45, -1.70, -2.10,
  -2.55, -3.05, -3.40, -3.55, -2.80, -2.45, -1.55, -1.10, -0.95, -0.88,
  -0.85, -0.88, -0.95, -0.80, -0.58, -0.45, -0.38, -0.30, -0.26, -0.24,
  -0.23, -0.22, -0.20, -0.21, -0.20, -0.22, -0.21, -0.18, -0.16, -0.18,
  -0.30, -0.50, -0.68, -0.78, -0.82, -0.80, -0.40, -0.18, -0.12, -0.10,
  -0.09, -0.08, -0.07, -0.06, -0.08, -0.05, -0.06, -0.07, -0.10, -0.15,
  -0.17, -0.20, -0.25, -0.30, -0.38, -0.42, -0.48, -0.55, -0.60, -0.65,
  -0.20, -0.05, -0.03, -0.02, -0.05, -0.03, -0.06, -0.04, -0.06, -0.03,
  -0.05, -0.07, -0.04, -0.06, -0.08, -0.04, -0.06, -0.03, -0.05, -0.04,
];
const H_LC40 = [
  -0.08, -0.15, -0.28, -0.48, -0.65, -0.85, -1.15, -1.45, -1.75, -2.15,
  -2.50, -2.85, -3.05, -3.10, -2.70, -2.20, -1.40, -1.05, -0.90, -0.85,
  -0.82, -0.85, -1.10, -0.85, -0.58, -0.45, -0.37, -0.30, -0.26, -0.25,
  -0.24, -0.23, -0.21, -0.22, -0.20, -0.21, -0.19, -0.17, -0.15, -0.17,
  -0.28, -0.45, -0.60, -0.65, -0.62, -0.30, -0.15, -0.10, -0.08, -0.07,
  -0.06, -0.08, -0.06, -0.05, -0.07, -0.04, -0.06, -0.07, -0.12, -0.18,
  -0.16, -0.20, -0.28, -0.35, -0.45, -0.50, -0.58, -0.65, -0.72, -0.80,
  -0.85, -0.92, -0.95, -0.20, -0.04, -0.06, -0.03, -0.05, -0.02, -0.06,
  -0.04, -0.06, -0.03, -0.05, -0.07, -0.03, -0.05, -0.04, -0.06, -0.03,
];
const H_LC50 = [
  -0.10, -0.18, -0.30, -0.48, -0.62, -0.82, -1.10, -1.40, -1.70, -2.15,
  -2.55, -2.95, -3.25, -3.45, -3.00, -2.30, -1.60, -1.10, -0.92, -0.85,
  -0.82, -0.70, -1.00, -0.90, -0.62, -0.48, -0.38, -0.32, -0.27, -0.23,
  -0.22, -0.20, -0.18, -0.19, -0.18, -0.17, -0.18, -0.16, -0.13, -0.14,
  -0.22, -0.32, -0.42, -0.48, -0.50, -0.35, -0.15, -0.10, -0.08, -0.07,
  -0.06, -0.07, -0.05, -0.04, -0.06, -0.03, -0.05, -0.06, -0.12, -0.18,
  -0.20, -0.22, -0.25, -0.30, -0.35, -0.42, -0.48, -0.55, -0.62, -0.70,
  -0.78, -0.85, -0.92, -0.97, -0.98, -0.92, -0.30, -0.05, -0.03, -0.06,
  -0.04, -0.02, -0.05, -0.03, -0.06, -0.04, -0.02, -0.05, -0.03, -0.04,
];

const X_TICKS = [0, 100, 200, 300, 400, 500, 600, 700, 800, 900, 1000];

const rowsOf = (temps: number[], cols: number[][]) =>
  temps.map((t, i) => ({
    t,
    ref: cols[0][i],
    lc10: cols[1][i],
    lc20: cols[2][i],
    lc30: cols[3][i],
    lc40: cols[4][i],
    lc50: cols[5][i],
  }));

const stepTicks = (lo: number, hi: number, step: number) => {
  const out: number[] = [];
  const n = Math.round((hi - lo) / step);
  for (let i = 0; i <= n; i++) out.push(+(lo + i * step).toFixed(3));
  return out;
};

const LEFT_X = 182;
const LEFT_W = 1241;
const RIGHT_X = 1634;
const RIGHT_W = 1264;

const PANELS = [
  { id: "a", kind: "tg", label: "(a) 3d", x: LEFT_X, y: 85, w: LEFT_W, h: 998, lo: 75, hi: 100, lx: 131, ly: 61, cols: [A_REF, A_LC10, A_LC20, A_LC30, A_LC40, A_LC50] },
  { id: "b", kind: "tg", label: "(b) 7d", x: LEFT_X, y: 1268, w: LEFT_W, h: 997, lo: 70, hi: 100, lx: 143, ly: 65, cols: [B_REF, B_LC10, B_LC20, B_LC30, B_LC40, B_LC50] },
  { id: "c", kind: "tg", label: "(c) 28d", x: LEFT_X, y: 2446, w: LEFT_W, h: 1000, lo: 70, hi: 100, lx: 148, ly: 62, cols: [C_REF, C_LC10, C_LC20, C_LC30, C_LC40, C_LC50] },
  { id: "d", kind: "tg", label: "(d) 60d", x: LEFT_X, y: 3627, w: LEFT_W, h: 998, lo: 65, hi: 100, lx: 131, ly: 59, cols: [D_REF, D_LC10, D_LC20, D_LC30, D_LC40, D_LC50] },
  { id: "e", kind: "dtg", label: "(e) 3d", x: RIGHT_X, y: 58, w: RIGHT_W, h: 1021, lo: -2.5, hi: 0.25, lx: 23, ly: 48, cols: [E_REF, E_LC10, E_LC20, E_LC30, E_LC40, E_LC50] },
  { id: "f", kind: "dtg", label: "(f) 7d", x: RIGHT_X, y: 1248, w: RIGHT_W, h: 1023, lo: -3, hi: 0.25, lx: 35, ly: 58, cols: [F_REF, F_LC10, F_LC20, F_LC30, F_LC40, F_LC50] },
  { id: "g", kind: "dtg", label: "(g) 28d", x: RIGHT_X, y: 2432, w: RIGHT_W, h: 1027, lo: -2.75, hi: 0.25, lx: 33, ly: 50, cols: [G_REF, G_LC10, G_LC20, G_LC30, G_LC40, G_LC50] },
  { id: "h", kind: "dtg", label: "(h) 60d", x: RIGHT_X, y: 3618, w: RIGHT_W, h: 1023, lo: -4, hi: 0.25, lx: 51, ly: 45, cols: [H_REF, H_LC10, H_LC20, H_LC30, H_LC40, H_LC50] },
];

const AX_W = 160;
const AX_H = 160;
const M_TOP = 50;
const M_RIGHT = 70;

const textStyle: React.CSSProperties = {
  position: "absolute",
  fontFamily: FONT,
  fontWeight: 700,
  color: "#000",
  whiteSpace: "nowrap",
  lineHeight: 1,
};

function XTick(props: any) {
  const { x, y, payload, dy } = props;
  const v = payload.value;
  const major = v % 200 === 0;
  return (
    <g>
      <line x1={x} y1={y} x2={x} y2={y - (major ? 20 : 10)} stroke="#000" strokeWidth={4} />
      {major ? (
        <text x={x} y={y + dy} textAnchor="middle" fontFamily={FONT} fontWeight="bold" fontSize={42} fill="#000">
          {v}
        </text>
      ) : null}
    </g>
  );
}

function YTick(props: any) {
  const { x, y, payload, kind } = props;
  const v = payload.value;
  const major = kind === "tg" ? v % 5 === 0 : Math.abs(v * 2 - Math.round(v * 2)) < 1e-6;
  const text = kind === "tg" ? String(v) : v === 0 ? "0.0" : "\u2212" + Math.abs(v).toFixed(1);
  return (
    <g>
      <line x1={x} y1={y} x2={x + (major ? 19 : 9)} y2={y} stroke="#000" strokeWidth={4} />
      {major ? (
        <text x={x - (kind === "tg" ? 23 : 20)} y={y} dy="0.35em" textAnchor="end" fontFamily={FONT} fontWeight="bold" fontSize={42} fill="#000">
          {text}
        </text>
      ) : null}
    </g>
  );
}

function LegendRows({ rowH, lineW, sw }: { rowH: number; lineW: number; sw: number }) {
  return (
    <div>
      {SERIES.map((s) => (
        <div key={s.key} style={{ display: "flex", alignItems: "center", height: rowH }}>
          <svg width={lineW} height={10} style={{ display: "block" }}>
            <line x1={0} y1={5} x2={lineW} y2={5} stroke={s.color} strokeWidth={sw} />
          </svg>
          <span style={{ marginLeft: 13, fontFamily: FONT, fontWeight: 700, fontSize: 51, lineHeight: 1, color: "#000" }}>
            {s.name}
          </span>
        </div>
      ))}
    </div>
  );
}

function Panel({ p }: { p: any }) {
  const isTG = p.kind === "tg";
  const W = p.w + AX_W + M_RIGHT;
  const H = p.h + M_TOP + AX_H;
  const rows = rowsOf(isTG ? T_TG : T_DTG, p.cols);
  const major = isTG ? 5 : 0.5;
  const yTicks = stepTicks(p.lo, p.hi, major / 2).filter((v) => v <= (isTG ? p.hi : 0) + 1e-9);
  const rowH = isTG ? 65 : 67;
  const legTop = M_TOP + (isTG ? 65 : 608) - rowH / 2;
  const legLeft = AX_W + (isTG ? 869 : 875);
  return (
    <>
      <div style={{ position: "absolute", left: p.x - AX_W, top: p.y - M_TOP }}>
        <LineChart width={W} height={H} data={rows} margin={{ top: M_TOP, right: M_RIGHT, bottom: 0, left: 0 }}>
          <XAxis
            dataKey="t"
            type="number"
            domain={[0, 1000]}
            ticks={X_TICKS}
            interval={0}
            height={AX_H}
            tickSize={0}
            tickMargin={0}
            tickLine={false}
            axisLine={{ stroke: "#000", strokeWidth: 4 }}
            tick={(tp: any) => <XTick {...tp} dy={isTG ? 59 : 56} />}
            allowDataOverflow
          />
          <YAxis
            type="number"
            domain={[p.lo, p.hi]}
            ticks={yTicks}
            interval={0}
            width={AX_W}
            tickSize={0}
            tickMargin={0}
            tickLine={false}
            axisLine={{ stroke: "#000", strokeWidth: 4 }}
            tick={(tp: any) => <YTick {...tp} kind={p.kind} />}
            allowDataOverflow
          />
          <ReferenceArea x1={0} x2={1000} y1={p.lo} y2={p.hi} fill="none" stroke="#000" strokeWidth={4} ifOverflow="visible" />
          {SERIES.map((s) => (
            <Line
              key={s.key}
              dataKey={s.key}
              name={s.name}
              type={isTG ? "monotone" : "linear"}
              stroke={s.color}
              strokeWidth={isTG ? 5 : 3.5}
              dot={false}
              activeDot={false}
              isAnimationActive={false}
            />
          ))}
          <Legend
            layout="vertical"
            align="center"
            verticalAlign="middle"
            wrapperStyle={{ left: legLeft, top: legTop, width: "auto", height: "auto" }}
            content={() => <LegendRows rowH={rowH} lineW={isTG ? 105 : 120} sw={isTG ? 5 : 4} />}
          />
        </LineChart>
      </div>
      <div style={{ ...textStyle, fontSize: 50, left: p.x + p.lx, top: p.y + p.ly, transform: "translateY(-50%)" }}>{p.label}</div>
      <div style={{ ...textStyle, fontSize: 53, left: p.x + p.w / 2, top: p.y + p.h + 121, transform: "translate(-50%, -50%)" }}>
        Temperature (°C)
      </div>
      <div
        style={{
          ...textStyle,
          fontSize: 52,
          left: isTG ? 58 : 1496,
          top: p.y + p.h / 2,
          transform: "translate(-50%, -50%) rotate(-90deg)",
        }}
      >
        {isTG ? "Mass (%)" : "DTG (%/min)"}
      </div>
    </>
  );
}

export default function App() {
  return (
    <div style={{ position: "absolute", left: 0, top: 0, width: 2990, height: 4828, background: "#fff" }}>
      {PANELS.map((p) => (
        <Panel key={p.id} p={p} />
      ))}
    </div>
  );
}
